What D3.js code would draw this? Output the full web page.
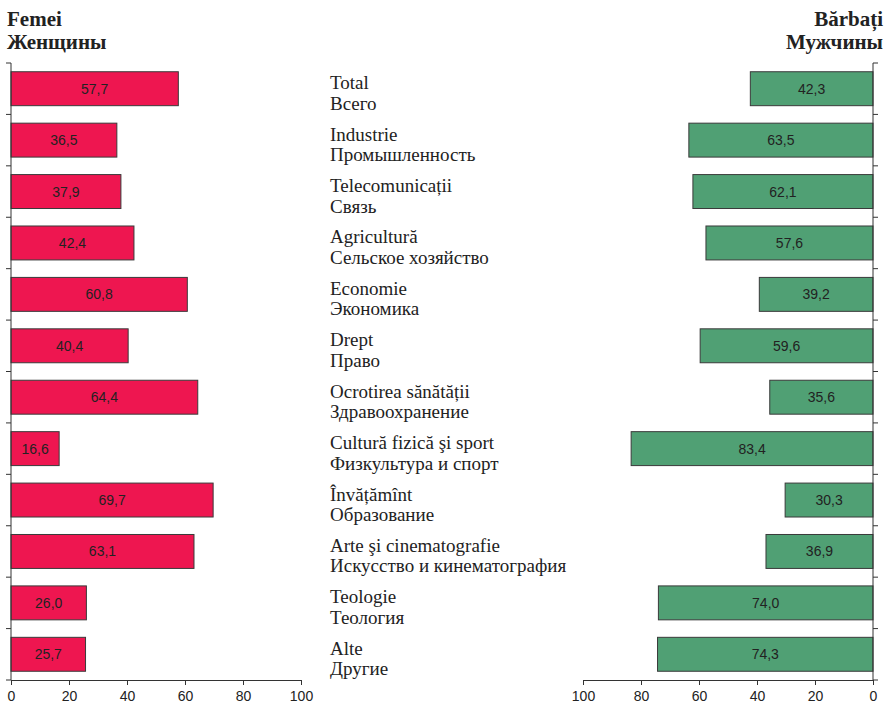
<!DOCTYPE html>
<html><head><meta charset="utf-8">
<script src="https://cdn.jsdelivr.net/npm/d3@7"></script>
<style>body{margin:0;background:#fff}</style>
</head><body>
<svg id="c" width="886" height="707"></svg>
<script>
const categoriesRo = ["Total","Industrie","Telecomunicații","Agricultură","Economie","Drept","Ocrotirea sănătății","Cultură fizică şi sport","Învățămînt","Arte şi cinematografie","Teologie","Alte"];
const categoriesRu = ["Всего","Промышленность","Связь","Сельское хозяйство","Экономика","Право","Здравоохранение","Физкультура и спорт","Образование","Искусство и кинематография","Теология","Другие"];
const women = [57.7,36.5,37.9,42.4,60.8,40.4,64.4,16.6,69.7,63.1,26.0,25.7];
const men = [42.3,63.5,62.1,57.6,39.2,59.6,35.6,83.4,30.3,36.9,74.0,74.3];
const ticks = [0,20,40,60,80,100];

const svg = d3.select("#c");
const fmt = v => v.toFixed(1).replace(".", ",");
const y = d3.scaleBand().domain(d3.range(12)).range([63, 680]).paddingInner(0.34).paddingOuter(0.17);
const yAxis = d3.scaleBand().domain(d3.range(12)).range([63, 680]);
const xL = d3.scaleLinear().domain([0,100]).range([11, 301]);
const xR = d3.scaleLinear().domain([100,0]).range([583, 873]);
const red = "#EE1650", green = "#50A074", stroke = "#3a3a3a";

// left bars
svg.append("g").selectAll("rect").data(women).join("rect")
  .attr("x", xL(0)).attr("y", (d,i)=>y(i)).attr("width", d=>xL(d)-xL(0)).attr("height", y.bandwidth())
  .attr("fill", red).attr("stroke", stroke).attr("stroke-width", 1);
svg.append("g").selectAll("text").data(women).join("text")
  .attr("x", d=>(xL(0)+xL(d))/2).attr("y", (d,i)=>y(i)+y.bandwidth()/2+5)
  .attr("text-anchor","middle").attr("font-family","'Liberation Sans',Arial,sans-serif").attr("font-size",14).attr("fill","#222")
  .text(fmt);
// right bars
svg.append("g").selectAll("rect").data(men).join("rect")
  .attr("x", d=>xR(d)).attr("y", (d,i)=>y(i)).attr("width", d=>xR(0)-xR(d)).attr("height", y.bandwidth())
  .attr("fill", green).attr("stroke", stroke).attr("stroke-width", 1);
svg.append("g").selectAll("text").data(men).join("text")
  .attr("x", d=>(xR(0)+xR(d))/2).attr("y", (d,i)=>y(i)+y.bandwidth()/2+5)
  .attr("text-anchor","middle").attr("font-family","'Liberation Sans',Arial,sans-serif").attr("font-size",14).attr("fill","#222")
  .text(fmt);

// axes
function styleAxis(g){
  g.selectAll("path,line").attr("stroke","#333");
  g.selectAll("text").attr("font-family","'Liberation Sans',Arial,sans-serif").attr("font-size",14).attr("fill","#222");
}
const bx = svg.append("g").attr("transform","translate(0,680)")
  .call(d3.axisBottom(xL).tickValues(ticks).tickSize(5).tickSizeOuter(0).tickPadding(6));
styleAxis(bx);
const bx2 = svg.append("g").attr("transform","translate(0,680)")
  .call(d3.axisBottom(xR).tickValues(ticks).tickSize(5).tickSizeOuter(0).tickPadding(6));
styleAxis(bx2);

// vertical category axes
const bounds = d3.range(13).map(i => i<12 ? yAxis(i) : 680);
svg.append("line").attr("x1",xL(0)).attr("x2",xL(0)).attr("y1",63).attr("y2",680).attr("stroke","#333");
svg.append("g").selectAll("line").data(bounds).join("line")
  .attr("x1",xL(0)-5).attr("x2",xL(0)).attr("y1",d=>d).attr("y2",d=>d).attr("stroke","#333");
svg.append("line").attr("x1",xR(0)).attr("x2",xR(0)).attr("y1",63).attr("y2",680).attr("stroke","#333");
svg.append("g").selectAll("line").data(bounds).join("line")
  .attr("x1",xR(0)).attr("x2",xR(0)+5).attr("y1",d=>d).attr("y2",d=>d).attr("stroke","#333");

// category labels
const lab = svg.append("g").attr("font-family","'Liberation Serif','Times New Roman',serif").attr("font-size",19).attr("fill","#222");
categoriesRo.forEach((c,i)=>{
  const cy = yAxis(i) + yAxis.bandwidth()/2;
  lab.append("text").attr("x",330).attr("y",cy+0.5).text(c);
  lab.append("text").attr("x",330).attr("y",cy+21).text(categoriesRu[i]);
});

// titles
const tt = svg.append("g").attr("font-family","'Liberation Serif','Times New Roman',serif").attr("font-size",21).attr("font-weight","bold").attr("fill","#222");
tt.append("text").attr("x",7).attr("y",26).text("Femei");
tt.append("text").attr("x",7).attr("y",49).text("Женщины");
tt.append("text").attr("x",883).attr("y",26).attr("text-anchor","end").text("Bărbați");
tt.append("text").attr("x",883).attr("y",49).attr("text-anchor","end").text("Мужчины");
</script>
</body></html>
